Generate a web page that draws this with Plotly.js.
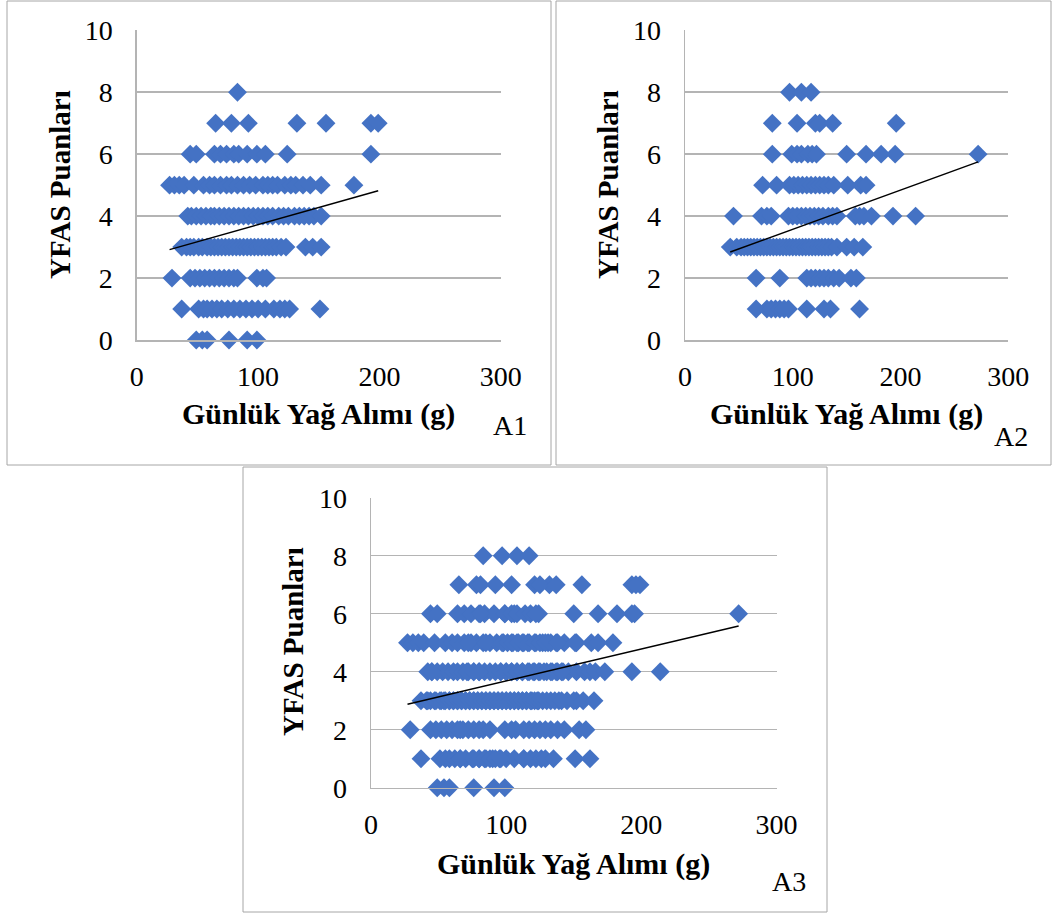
<!DOCTYPE html>
<html>
<head>
<meta charset="utf-8">
<script src="https://cdn.plot.ly/plotly-3.0.1.min.js"></script>
<style>
  html, body { margin: 0; padding: 0; background: #ffffff; }
  #chart { width: 1054px; height: 916px; }
</style>
</head>
<body>
<div id="chart"></div>
<script>
// YFAS score levels (rows of the scatter)
const scoreLevels = [0, 1, 2, 3, 4, 5, 6, 7, 8];

// A1: daily fat intake (g) of each participant, grouped by YFAS score (index = score)
const a1FatByScore = [
  [49, 54, 58, 76, 91, 99],
  [37, 51, 55, 58, 62, 66, 70, 75, 80, 85, 90, 95, 100, 106, 113, 118, 122, 126, 151],
  [29, 44, 48, 52, 56, 60, 64, 68, 72, 76, 80, 83, 99, 104, 107],
  [37, 41, 44, 47, 51, 54, 58, 61, 64, 67, 70, 73, 76, 79, 82, 85, 88, 91, 94, 97, 100, 103, 106, 109, 112, 115, 119, 123, 139, 145, 152],
  [42, 45, 49, 53, 57, 61, 64, 68, 72, 76, 80, 84, 88, 92, 96, 100, 104, 108, 112, 117, 121, 125, 130, 134, 138, 142, 146, 152],
  [27, 31, 35, 39, 47, 55, 60, 64, 69, 74, 78, 83, 88, 93, 98, 104, 108, 112, 116, 122, 127, 131, 137, 143, 152, 179],
  [44, 49, 64, 69, 74, 80, 84, 91, 99, 106, 124, 193],
  [65, 78, 92, 132, 156, 193, 199],
  [83]
];

// A2: daily fat intake (g) grouped by YFAS score
const a2FatByScore = [
  [],
  [66, 76, 80, 84, 88, 92, 96, 113, 129, 135, 162],
  [66, 88, 113, 117, 121, 125, 129, 133, 138, 143, 154, 159],
  [42, 48, 52, 55, 58, 61, 64, 67, 70, 73, 76, 79, 82, 85, 88, 91, 94, 97, 100, 103, 106, 109, 112, 115, 118, 121, 124, 127, 130, 133, 136, 141, 150, 157, 165],
  [45, 71, 76, 80, 96, 100, 104, 108, 112, 116, 120, 124, 128, 133, 137, 141, 158, 162, 166, 173, 193, 214],
  [72, 85, 97, 101, 105, 109, 113, 117, 121, 125, 129, 133, 138, 151, 163, 168],
  [81, 99, 104, 108, 114, 118, 122, 150, 168, 182, 195, 272],
  [81, 104, 121, 125, 137, 196],
  [97, 108, 117]
];

// A3 pools both groups
const a3FatByScore = scoreLevels.map(s => a1FatByScore[s].concat(a2FatByScore[s]));

// Linear trendlines (YFAS = intercept + slope * fat) for A1, A2, A3
const panelNames = ['A1', 'A2', 'A3'];
const trendSlope = [0.01105, 0.01265, 0.01102];
const trendIntercept = [2.62, 2.31, 2.58];

// Axis ticks
const xTicks = [0, 100, 200, 300];
const yTicks = [0, 2, 4, 6, 8, 10];

const xTitle = 'Günlük Yağ Alımı (g)';
const yTitle = 'YFAS Puanları';

// ---- page geometry (pixels) ----
const W = 1054, H = 916;
const px = v => v / W;
const py = v => 1 - v / H;

const panels = [
  { data: a1FatByScore, plot: [136.8, 30.3, 500.7, 340], frame: [7, 1, 551, 465],
    xTitleAt: [318, 414], yTitleAt: [60, 185], tagAt: [510, 426] },
  { data: a2FatByScore, plot: [685, 30.3, 1008.3, 340], frame: [556, 1, 1051, 465],
    xTitleAt: [846, 414], yTitleAt: [608, 185], tagAt: [1011, 436] },
  { data: a3FatByScore, plot: [371, 497.7, 776.5, 787.7], frame: [243, 467, 827, 912],
    xTitleAt: [573, 864], yTitleAt: [293, 642], tagAt: [789, 881] }
];

const serif = 'Liberation Serif, Times New Roman, serif';
const gridGray = '#b4b4b4';
const markerBlue = '#4472C4';

const traces = [];
const layout = {
  width: W, height: H,
  margin: { l: 0, r: 0, t: 0, b: 0, pad: 0 },
  paper_bgcolor: '#ffffff',
  plot_bgcolor: 'rgba(0,0,0,0)',
  showlegend: false,
  shapes: [],
  annotations: []
};

panels.forEach((p, i) => {
  const n = i + 1;
  const xa = n === 1 ? 'x' : 'x' + n;
  const ya = n === 1 ? 'y' : 'y' + n;
  const xKey = n === 1 ? 'xaxis' : 'xaxis' + n;
  const yKey = n === 1 ? 'yaxis' : 'yaxis' + n;

  const xs = [], ys = [];
  scoreLevels.forEach(s => {
    p.data[s].forEach(v => { xs.push(v); ys.push(s); });
  });

  traces.push({
    type: 'scatter', mode: 'markers', x: xs, y: ys, xaxis: xa, yaxis: ya,
    cliponaxis: false, hoverinfo: 'skip',
    marker: { symbol: 'diamond', size: 14.5, color: markerBlue, line: { width: 0 } }
  });

  const xMin = Math.min(...xs), xMax = Math.max(...xs);
  traces.push({
    type: 'scatter', mode: 'lines', xaxis: xa, yaxis: ya, hoverinfo: 'skip',
    x: [xMin, xMax],
    y: [trendIntercept[i] + trendSlope[i] * xMin, trendIntercept[i] + trendSlope[i] * xMax],
    line: { color: '#000000', width: 1.5 }
  });

  const [x0, y0, x1, y1] = p.plot;
  layout[xKey] = {
    domain: [px(x0), px(x1)], anchor: ya, range: [0, 300],
    tickmode: 'array', tickvals: xTicks, ticktext: xTicks.map(String),
    showgrid: false, zeroline: false, showline: true, linecolor: gridGray, linewidth: 1.5,
    ticks: 'outside', ticklen: 11, tickcolor: 'rgba(0,0,0,0)',
    tickfont: { family: serif, size: 28, color: '#000000' }, fixedrange: true
  };
  layout[yKey] = {
    domain: [py(y1), py(y0)], anchor: xa, range: [0, 10],
    tickmode: 'array', tickvals: yTicks, ticktext: yTicks.map(String),
    showgrid: true, gridcolor: gridGray, gridwidth: 1.5,
    zeroline: false, showline: true, linecolor: gridGray, linewidth: 1.5,
    ticks: 'outside', ticklen: 17, tickcolor: 'rgba(0,0,0,0)',
    tickfont: { family: serif, size: 28, color: '#000000' }, fixedrange: true
  };

  const [fx0, fy0, fx1, fy1] = p.frame;
  layout.shapes.push({
    type: 'rect', xref: 'paper', yref: 'paper',
    x0: px(fx0), x1: px(fx1), y0: py(fy1), y1: py(fy0),
    line: { color: '#a6a6a6', width: 1 }, fillcolor: 'rgba(0,0,0,0)', layer: 'below'
  });

  layout.annotations.push({
    text: '<b>' + xTitle + '</b>', xref: 'paper', yref: 'paper',
    x: px(p.xTitleAt[0]), y: py(p.xTitleAt[1]), xanchor: 'center', yanchor: 'middle',
    showarrow: false, font: { family: serif, size: 30, color: '#000000' }
  });
  layout.annotations.push({
    text: '<b>' + yTitle + '</b>', xref: 'paper', yref: 'paper', textangle: -90,
    x: px(p.yTitleAt[0]), y: py(p.yTitleAt[1]), xanchor: 'center', yanchor: 'middle',
    showarrow: false, font: { family: serif, size: 29, color: '#000000' }
  });
  layout.annotations.push({
    text: panelNames[i], xref: 'paper', yref: 'paper',
    x: px(p.tagAt[0]), y: py(p.tagAt[1]), xanchor: 'center', yanchor: 'middle',
    showarrow: false, font: { family: serif, size: 28, color: '#000000' }
  });
});

Plotly.newPlot('chart', traces, layout, { staticPlot: true, displayModeBar: false });
</script>
</body>
</html>
